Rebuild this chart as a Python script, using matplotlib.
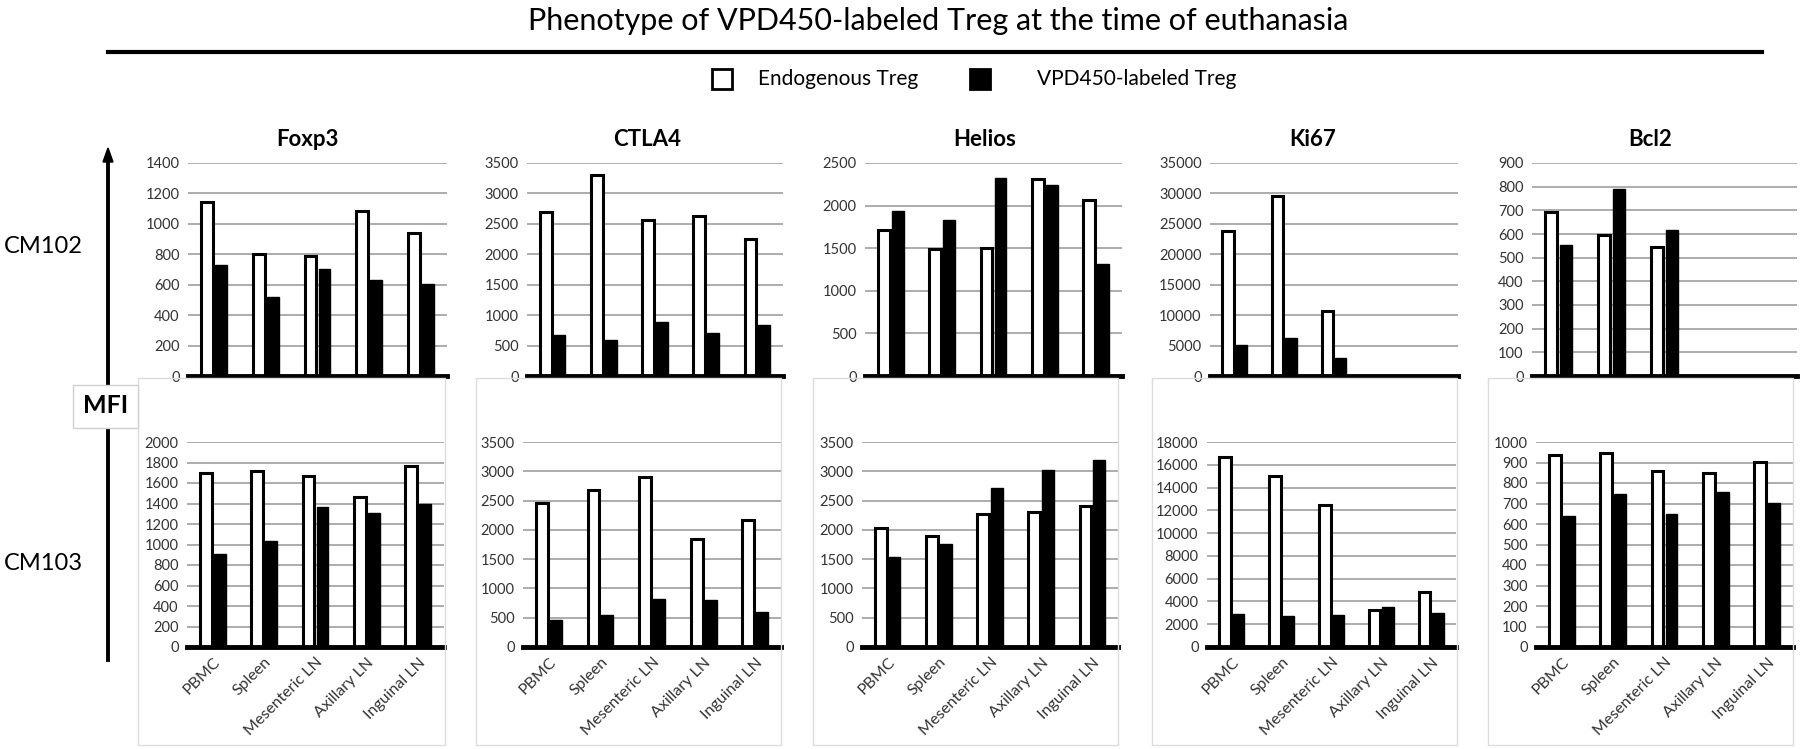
import numpy as np
import matplotlib.pyplot as plt
from matplotlib.patches import Rectangle

plt.rcParams['font.family'] = ['Lato', 'DejaVu Sans']

W, H = 1800, 749

tissues = ['PBMC', 'Spleen', 'Mesenteric LN', 'Axillary LN', 'Inguinal LN']
markers = ['Foxp3', 'CTLA4', 'Helios', 'Ki67', 'Bcl2']

# CM102 (top row)
cm102_endo = {
    'Foxp3': [1143, 801, 786, 1086, 937],
    'CTLA4': [2688, 3302, 2556, 2622, 2255],
    'Helios': [1708, 1485, 1500, 2316, 2065],
    'Ki67': [23900, 29600, 10700, np.nan, np.nan],
    'Bcl2': [691, 595, 546, np.nan, np.nan],
}
cm102_vpd = {
    'Foxp3': [731, 518, 702, 632, 603],
    'CTLA4': [680, 592, 883, 713, 834],
    'Helios': [1932, 1826, 2320, 2237, 1317],
    'Ki67': [5150, 6250, 3020, np.nan, np.nan],
    'Bcl2': [553, 791, 616, np.nan, np.nan],
}

# CM103 (bottom row)
cm103_endo = {
    'Foxp3': [1698, 1714, 1672, 1463, 1769],
    'CTLA4': [2464, 2675, 2897, 1850, 2174],
    'Helios': [2032, 1901, 2271, 2305, 2413],
    'Ki67': [16650, 14985, 12440, 3250, 4800],
    'Bcl2': [935, 945, 859, 850, 901],
}
cm103_vpd = {
    'Foxp3': [907, 1037, 1363, 1304, 1395],
    'CTLA4': [461, 546, 820, 808, 603],
    'Helios': [1537, 1759, 2721, 3017, 3193],
    'Ki67': [2900, 2690, 2810, 3510, 2985],
    'Bcl2': [639, 748, 647, 758, 702],
}

# y-axis (max, step) per panel
top_axis = {'Foxp3': (1400, 200), 'CTLA4': (3500, 500), 'Helios': (2500, 500),
            'Ki67': (35000, 5000), 'Bcl2': (900, 100)}
bot_axis = {'Foxp3': (2000, 200), 'CTLA4': (3500, 500), 'Helios': (3500, 500),
            'Ki67': (18000, 2000), 'Bcl2': (1000, 100)}

# pixel layout
top_x = [(188, 447), (527, 783), (865, 1122), (1210, 1458), (1532, 1797)]
bot_x = [(187, 444), (523, 781), (862, 1118), (1207, 1456), (1536, 1793)]
title_cx = [307, 647, 985, 1313, 1650]
frames = [(138, 445), (476, 781), (813, 1118), (1152, 1457), (1488, 1793)]

fig = plt.figure(figsize=(W / 100, H / 100), dpi=100)


def fx(x):
    return x / W


def fy(y):
    return 1 - y / H


def px_axes(x0, x1, ytop, ybot):
    return fig.add_axes([fx(x0), fy(ybot), (x1 - x0) / W, (ybot - ytop) / H])


# light grey chart frames of the lower row
for (a, b) in frames:
    fig.patches.append(Rectangle((fx(a), fy(745)), (b - a) / W, (745 - 378) / H,
                                 transform=fig.transFigure, fill=False,
                                 edgecolor='#dcdcdc', lw=1))


def draw_panel(ax, endo, vpd, ymax, step, xlabels):
    x = np.arange(len(tissues))
    ax.bar(x - 0.135, endo, width=0.23, color='white', edgecolor='black', lw=2.2, zorder=3)
    ax.bar(x + 0.135, vpd, width=0.23, color='black', edgecolor='black', lw=1, zorder=3)
    ax.set_xlim(-0.5, len(tissues) - 0.5)
    ax.set_ylim(0, ymax)
    ax.set_yticks(np.arange(0, ymax + 1, step))
    ax.yaxis.grid(True, color='#a6a6a6', lw=1.3)
    ax.set_axisbelow(True)
    for s in ['top', 'right', 'left']:
        ax.spines[s].set_visible(False)
    ax.spines['bottom'].set_linewidth(3.5)
    ax.spines['bottom'].set_zorder(4)
    ax.tick_params(axis='both', length=0, labelsize=10.5, colors='#333333', pad=6)
    ax.set_xticks(x)
    if xlabels:
        ax.set_xticklabels(tissues, rotation=45, ha='right', rotation_mode='anchor',
                           fontsize=11.5)
    else:
        ax.set_xticklabels([])
    ax.patch.set_alpha(0)


for i, m in enumerate(markers):
    ax = px_axes(top_x[i][0], top_x[i][1], 163, 376)
    draw_panel(ax, cm102_endo[m], cm102_vpd[m], *top_axis[m], xlabels=False)
    fig.text(fx(title_cx[i]), fy(140), m, ha='center', va='center',
             fontsize=16, fontweight='bold')

    ax = px_axes(bot_x[i][0], bot_x[i][1], 442, 647)
    draw_panel(ax, cm103_endo[m], cm103_vpd[m], *bot_axis[m], xlabels=True)

# main title and rule
fig.text(fx(528), fy(21), 'Phenotype of VPD450-labeled Treg at the time of euthanasia',
         ha='left', va='center', fontsize=22)
fig.add_artist(plt.Line2D([fx(108), fx(1762)], [fy(52), fy(52)], color='black', lw=3,
                          transform=fig.transFigure))

# legend
fig.patches.append(Rectangle((fx(712), fy(89)), 20 / W, 20 / H, transform=fig.transFigure,
                             facecolor='white', edgecolor='black', lw=2))
fig.text(fx(758), fy(79), 'Endogenous Treg', ha='left', va='center', fontsize=15)
fig.patches.append(Rectangle((fx(970), fy(89)), 20 / W, 20 / H, transform=fig.transFigure,
                             facecolor='black', edgecolor='black', lw=2))
fig.text(fx(1037), fy(79), 'VPD450-labeled Treg', ha='left', va='center', fontsize=15)

# MFI arrow
fig.add_artist(plt.Line2D([fx(108), fx(108)], [fy(660), fy(160)], color='black', lw=2.8,
                          transform=fig.transFigure))
fig.patches.append(plt.Polygon([[fx(103), fy(162)], [fx(113), fy(162)], [fx(108), fy(148)]],
                               closed=True, transform=fig.transFigure, color='black'))
fig.patches.append(Rectangle((fx(73), fy(428)), 65 / W, 43 / H, transform=fig.transFigure,
                             facecolor='white', edgecolor='#d0d0d0', lw=1, zorder=5))
fig.text(fx(106), fy(406), 'MFI', ha='center', va='center', fontsize=18,
         fontweight='bold', zorder=6)

# row labels
fig.text(fx(43), fy(247), 'CM102', ha='center', va='center', fontsize=17)
fig.text(fx(43), fy(563), 'CM103', ha='center', va='center', fontsize=17)

fig.savefig('out.png', dpi=100)
